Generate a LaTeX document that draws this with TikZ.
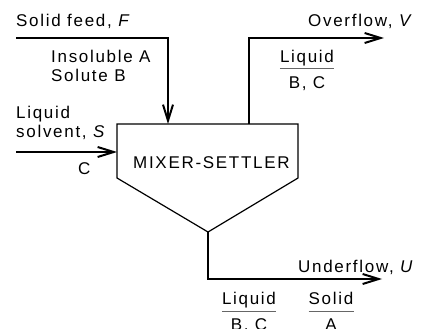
\documentclass[tikz,border=0pt]{standalone}
\usepackage{fontspec}
\setmainfont{Liberation Sans}[LetterSpace=10]
\usetikzlibrary{arrows.meta,positioning,calc}

\begin{document}
\begin{tikzpicture}[x=1pt,y=-1pt,
    font=\fontsize{17}{20}\selectfont,
    flow/.style={line width=2.4pt,-{Straight Barb[length=16pt,width=10pt,line width=2pt]}},
    txt/.style={inner sep=0pt,anchor=base west},
    phs/.style={inner sep=0pt,anchor=base},
    rule/.style={line width=0.9pt,black!60}]
  \useasboundingbox (0,0) rectangle (421,329);
  % mixer-settler vessel
  \coordinate (nw) at (117,124);
  \coordinate (ne) at (298,124);
  \coordinate (se) at (298,178);
  \coordinate (sw) at (117,178);
  \coordinate (apex) at (208,232);
  \draw[line width=1.2pt] (nw) -- (ne) -- (se) -- (apex) -- (sw) -- cycle;
  \node[txt] (mixer) at (133,168) {MIXER-SETTLER};
  % stream ends
  \coordinate (feedin) at (16,38);
  \coordinate (feedtip) at (168,124);
  \coordinate (solvin) at (16,152);
  \coordinate (solvtip) at (117,152);
  \coordinate (ovbase) at (249,124);
  \coordinate (ovtip) at (384,38);
  \coordinate (untip) at (382,279);
  \draw[flow] (feedin) -| (feedtip);
  \draw[flow] (solvin) -- (solvtip);
  \draw[flow] (ovbase) |- (ovtip);
  \draw[flow] (apex) |- (untip);
  % labels
  \node[txt] (feed) at (16,27) {Solid feed, \textit{F}};
  \node[txt] (insol) at (51,63) {Insoluble A};
  \node[txt] (solute) at (51,82) {Solute B};
  \node[txt] (liq) at (16,118) {Liquid};
  \node[txt] (solv) at (16,138) {solvent, \textit{S}};
  \node[txt] (cc) at (78,175) {C};
  \node[txt] (over) at (308,27) {Overflow, \textit{V}};
  \node[txt] (under) at (298,272) {Underflow, \textit{U}};
  % phase compositions
  \node[phs] (ovliq) at (307,63) {Liquid};
  \node[phs] (ovbc) at (307,89) {B, C};
  \node[phs] (unliq) at (249,304) {Liquid};
  \node[phs] (unbc) at (249,330) {B, C};
  \node[phs] (unsol) at (331,304) {Solid};
  \node[phs] (una) at (331,330) {A};
  \draw[rule] ($(ovliq.base west)+(0,5)$) -- ($(ovliq.base east)+(0,5)$);
  \draw[rule] ($(unliq.base west)+(0,7)$) -- ($(unliq.base east)+(0,7)$);
  \draw[rule] ($(unsol.base west)+(0,7)$) -- ($(unsol.base east)+(0,7)$);
\end{tikzpicture}
\end{document}
